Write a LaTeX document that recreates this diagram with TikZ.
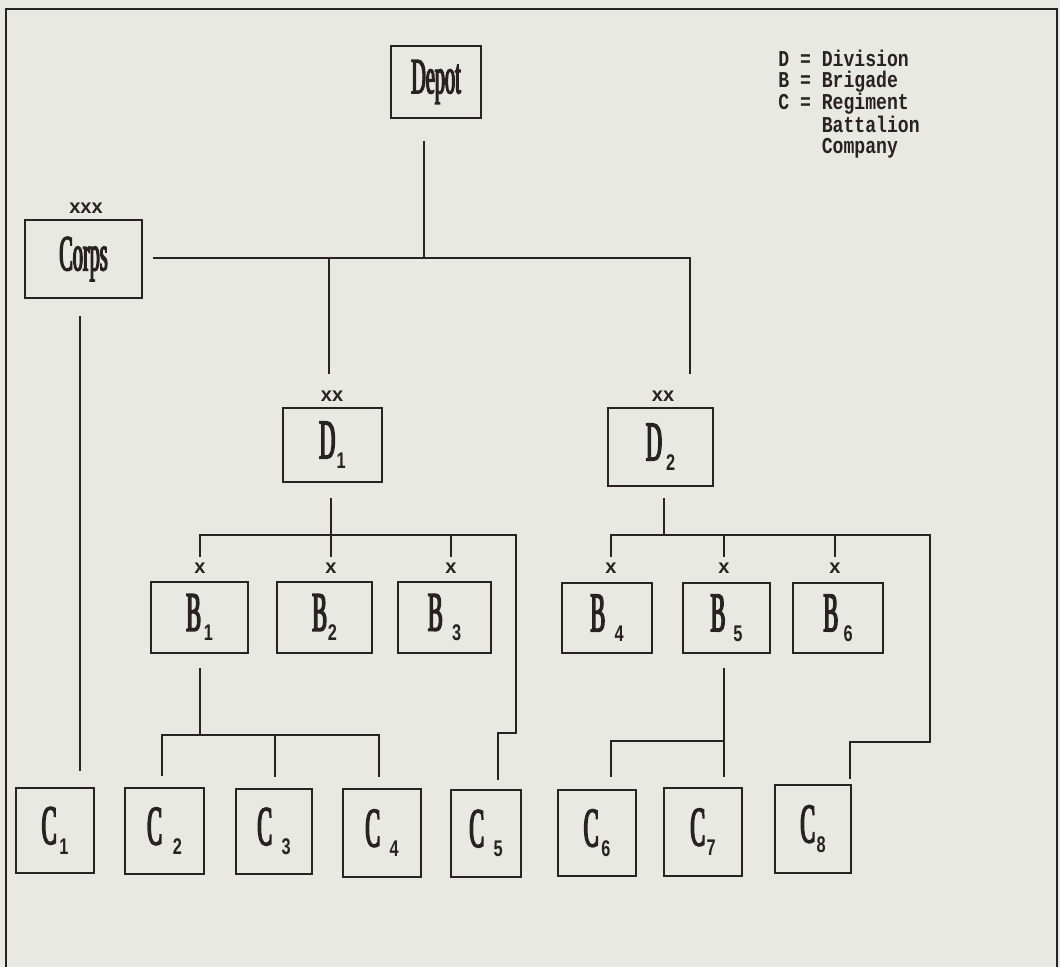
\documentclass[tikz,border=0pt]{standalone}
\usepackage{fontspec}
\newfontfamily\boxserif{Liberation Serif}[FakeStretch=0.40, FakeBold=2.5]
\newfontfamily\subsans{Liberation Sans}[FakeStretch=0.72]
\newfontfamily\ranksans{Liberation Sans}
\newfontfamily\legmono{Liberation Mono}[FakeStretch=0.8]
\definecolor{paper}{RGB}{232,233,226}
\definecolor{ink}{RGB}{42,34,34}
\newcommand\namefont{\boxserif\fontsize{38}{38}\selectfont}
\newcommand\bigfont{\boxserif\fontsize{42}{42}\selectfont}
\newcommand\smallsub{\subsans\bfseries\fontsize{17}{17}\selectfont}
\newcommand\unitlbl[3]{{\bigfont #1}\hspace{#2}\raisebox{-7.5pt}{\smallsub #3}}
\begin{document}
\begin{tikzpicture}[x=0.75pt,y=-0.75pt,
  unitbox/.style 2 args={draw=ink, line width=1.3pt, inner sep=0pt, text=ink,
    minimum width=#1*0.75pt, minimum height=#2*0.75pt},
  rank/.style={text=ink, inner sep=0pt, font=\ranksans\bfseries\fontsize{15}{15}\selectfont},
  link/.style={draw=ink, line width=0.9pt},
  frame/.style={draw=ink, line width=1.4pt}]
\fill[paper] (0,0) rectangle (1060,967);
\useasboundingbox (0,0) rectangle (1060,967);
\draw[frame] (6,967) -- (6,9) -- (1057,9) -- (1057,967);

% legend
\node[anchor=north west, align=left, inner sep=0pt, text=ink,
  font=\legmono\bfseries\fontsize{17}{15.5}\selectfont] (legend) at (778,50)
  {D = Division\\B = Brigade\\C = Regiment\\\phantom{C~=~}Battalion\\\phantom{C~=~}Company};

% top level
\node[unitbox={90}{72}, font=\namefont] (depot) at (436,82) {Depot};
\node[unitbox={117}{78}, font=\namefont] (corps) at (83.5,259) {Corps};
\node[rank] (xcorps) at (86,208) {xxx};

% divisions
\node[unitbox={99}{74}] (d1) at (332.5,445) {\unitlbl{D}{1pt}{1}};
\node[unitbox={105}{78}] (d2) at (660.5,447) {\unitlbl{D}{3pt}{2}};
\node[rank] (xd1) at (332,396) {xx};
\node[rank] (xd2) at (663,396) {xx};

% brigades
\node[unitbox={97}{71}] (b1) at (199.5,617.5) {\unitlbl{B}{2pt}{1}};
\node[unitbox={95}{71}] (b2) at (324.5,617.5) {\unitlbl{B}{0.5pt}{2}};
\node[unitbox={93}{71}] (b3) at (444.5,617.5) {\unitlbl{B}{7pt}{3}};
\node[unitbox={90}{70}] (b4) at (607,618) {\unitlbl{B}{7pt}{4}};
\node[unitbox={87}{70}] (b5) at (726.5,618) {\unitlbl{B}{6pt}{5}};
\node[unitbox={90}{70}] (b6) at (838,618) {\unitlbl{B}{4pt}{6}};
\node[rank] (xb1) at (200,568) {x};
\node[rank] (xb2) at (331,568) {x};
\node[rank] (xb3) at (451,568) {x};
\node[rank] (xb4) at (611,568) {x};
\node[rank] (xb5) at (724,568) {x};
\node[rank] (xb6) at (835,568) {x};

% companies
\node[unitbox={78}{85}] (c1) at (55,830.5) {\unitlbl{C}{2pt}{1}};
\node[unitbox={79}{86}] (c2) at (164.5,831) {\unitlbl{C}{8pt}{2}};
\node[unitbox={76}{85}] (c3) at (274,831.5) {\unitlbl{C}{7pt}{3}};
\node[unitbox={78}{88}] (c4) at (382,833) {\unitlbl{C}{7pt}{4}};
\node[unitbox={70}{87}] (c5) at (486,833.5) {\unitlbl{C}{7pt}{5}};
\node[unitbox={78}{86}] (c6) at (597,833) {\unitlbl{C}{2pt}{6}};
\node[unitbox={78}{88}] (c7) at (703,832) {\unitlbl{C}{1pt}{7}};
\node[unitbox={76}{88}] (c8) at (813,829) {\unitlbl{C}{1pt}{8}};

% junction coordinates
\coordinate (j0) at (424,258);
\coordinate (jD1) at (329,258);
\coordinate (jD2) at (690,258);
\coordinate (kc1) at (80,0);
\coordinate (bb1) at (331,535);
\coordinate (bL1) at (200,535);
\coordinate (bR1) at (516,535);
\coordinate (s5) at (516,733);
\coordinate (s5b) at (498,733);
\coordinate (cb) at (200,735);
\coordinate (cL) at (162,735);
\coordinate (cM) at (275,735);
\coordinate (cR) at (379,735);
\coordinate (bb2) at (664,535);
\coordinate (bL2) at (611,535);
\coordinate (bR2) at (930,535);
\coordinate (s8) at (930,742);
\coordinate (s8b) at (850,742);
\coordinate (c7j) at (724,741);
\coordinate (c6j) at (611,741);

% connectors
\draw[link, shorten <=16.5pt] (depot.south -| j0) -- (j0);
\draw[link, shorten <=7.5pt, shorten >=12pt] (corps.east |- j0) -- (jD2) -- (jD2 |- xd2.north);
\draw[link, shorten >=12pt] (jD1) -- (jD1 |- xd1.north);
\draw[link, shorten <=12.75pt, shorten >=12pt] (corps.south -| kc1) -- (c1.north -| kc1);

\draw[link, shorten <=11pt] (d1.south -| bb1) -- (bb1);
\draw[link, shorten <=4pt, shorten >=7pt] (xb1.north) -- (xb1.north |- bL1) -- (bR1) -- (s5) -- (s5b) -- (c5.north -| s5b);
\draw[link, shorten >=4pt] (xb2.north |- bb1) -- (xb2.north);
\draw[link, shorten >=4pt] (xb3.north |- bb1) -- (xb3.north);

\draw[link, shorten <=10.5pt] (b1.south -| cb) -- (cb);
\draw[link, shorten <=8pt, shorten >=8pt] (c2.north -| cL) -- (cL) -- (cR) -- (c4.north -| cR);
\draw[link, shorten >=8pt] (cM) -- (c3.north -| cM);

\draw[link, shorten <=8.25pt] (d2.south -| bb2) -- (bb2);
\draw[link, shorten <=4pt, shorten >=3.75pt] (xb4.north) -- (xb4.north |- bL2) -- (bR2) -- (s8) -- (s8b) -- (c8.north -| s8b);
\draw[link, shorten >=4pt] (xb5.north |- bb2) -- (xb5.north);
\draw[link, shorten >=4pt] (xb6.north |- bb2) -- (xb6.north);

\draw[link, shorten <=10.5pt, shorten >=7.5pt] (b5.south -| c7j) -- (c7.north -| c7j);
\draw[link, shorten >=9pt] (c7j) -- (c6j) -- (c6.north -| c6j);
\end{tikzpicture}
\end{document}
